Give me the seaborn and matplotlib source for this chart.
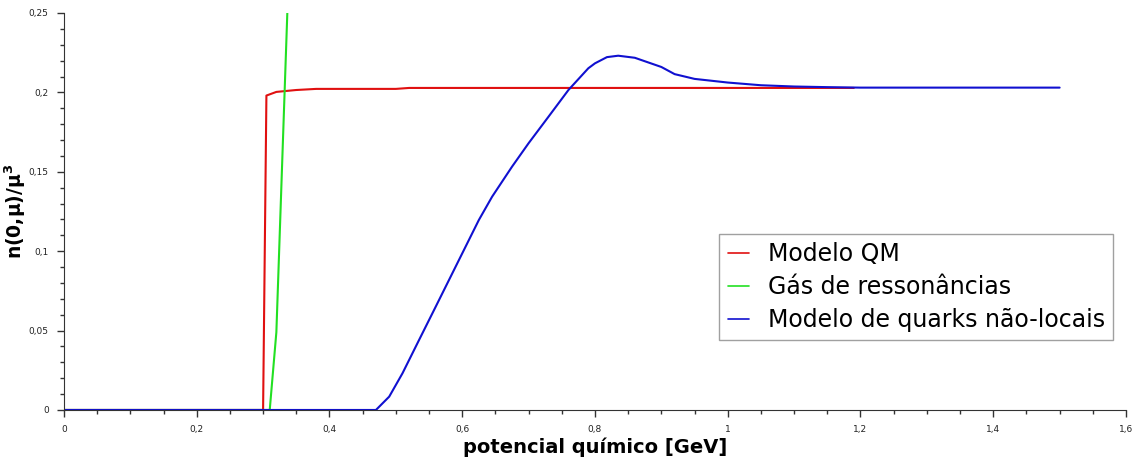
import matplotlib
matplotlib.use("Agg")
import numpy as np
import pandas as pd
import matplotlib.pyplot as plt
import seaborn as sns
from matplotlib.ticker import MultipleLocator, FuncFormatter

# values
mu_qm = [0.0, 0.30, 0.305, 0.32, 0.35, 0.38, 0.50, 0.52, 1.19]
n_qm = [0.0, 0.0, 0.198, 0.2003, 0.2015, 0.2022, 0.2022, 0.2028, 0.2028]

mu_gas = [0.0, 0.31, 0.32, 0.3365]
n_gas = [0.0, 0.0, 0.049, 0.25]

mu_nl = [0.0, 0.47, 0.49, 0.51, 0.535, 0.56, 0.585, 0.61, 0.625, 0.645, 0.675, 0.70,
         0.73, 0.76, 0.79, 0.80, 0.818, 0.835, 0.86, 0.90, 0.92, 0.95, 1.00, 1.05,
         1.10, 1.15, 1.20, 1.50]
n_nl = [0.0, 0.0, 0.0084, 0.0231, 0.0441, 0.065, 0.086, 0.107, 0.1196, 0.1343, 0.1532,
        0.168, 0.1847, 0.2015, 0.2152, 0.2183, 0.2222, 0.2231, 0.2218, 0.216, 0.2115,
        0.2085, 0.2062, 0.2045, 0.2037, 0.2033, 0.2030, 0.2030]

labels = ["Modelo QM", "Gás de ressonâncias", "Modelo de quarks não-locais"]
colors = ["#e01010", "#22e022", "#1010d0"]

df = pd.concat([
    pd.DataFrame({"mu": mu_qm, "n": n_qm, "modelo": labels[0]}),
    pd.DataFrame({"mu": mu_gas, "n": n_gas, "modelo": labels[1]}),
    pd.DataFrame({"mu": mu_nl, "n": n_nl, "modelo": labels[2]}),
])

sns.set_style("ticks")
plt.rcParams["font.family"] = ["DejaVu Sans"]
plt.rcParams["text.color"] = "black"
plt.rcParams["axes.labelcolor"] = "black"

fig = plt.figure(figsize=(11.36, 4.59), dpi=100)
ax = fig.add_axes([0.0563, 0.1068, 0.9349, 0.8649])

sns.lineplot(data=df, x="mu", y="n", hue="modelo", palette=colors,
             sort=False, estimator=None, linewidth=1.5, ax=ax)

ax.set_xlim(0, 1.6)
ax.set_ylim(0, 0.25)
ax.xaxis.set_major_locator(MultipleLocator(0.2))
ax.xaxis.set_minor_locator(MultipleLocator(0.05))
ax.yaxis.set_major_locator(MultipleLocator(0.05))
ax.yaxis.set_minor_locator(MultipleLocator(0.01))

fmt = FuncFormatter(lambda v, p: ("%g" % round(v, 4)).replace(".", ","))
ax.xaxis.set_major_formatter(fmt)
ax.yaxis.set_major_formatter(fmt)
ax.tick_params(which="major", length=5, width=1, labelsize=6.5, color="#333333",
               labelcolor="#222222", pad=6)
ax.tick_params(which="minor", length=3, width=1, color="#333333")
for s in ["left", "bottom"]:
    ax.spines[s].set_color("#333333")
sns.despine(ax=ax)

ax.set_xlabel("potencial químico [GeV]", fontsize=14, fontweight="bold", labelpad=2)
ax.set_ylabel(r"n(0,μ)/μ$^\mathbf{3}$", fontsize=13.5, fontweight="bold")
ax.yaxis.set_label_coords(-0.034, 0.5)

leg = ax.legend(loc="lower right", bbox_to_anchor=(0.988, 0.176), fontsize=17,
                frameon=True, fancybox=False, handlelength=0.9, handletextpad=0.8,
                borderpad=0.35, labelspacing=0.38, borderaxespad=0, title=None)
leg.get_frame().set_edgecolor("#888888")
leg.get_frame().set_linewidth(1)
for line in leg.get_lines():
    line.set_linewidth(1.2)

fig.savefig("out.png", dpi=100)
